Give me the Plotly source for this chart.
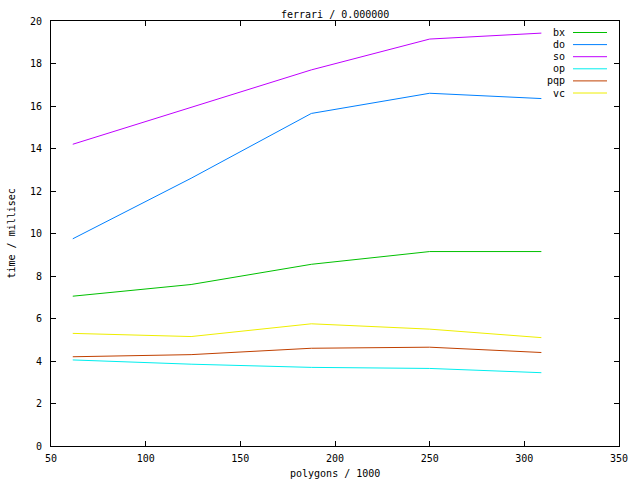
import plotly.graph_objects as go

polygons = [61.5, 124, 187.5, 250, 309]
series_names = ["bx", "do", "so", "op", "pqp", "vc"]
bx = [7.05, 7.6, 8.55, 9.15, 9.15]
do = [9.75, 12.6, 15.65, 16.6, 16.35]
so = [14.2, 15.95, 17.7, 19.15, 19.43]
op = [4.05, 3.85, 3.7, 3.65, 3.45]
pqp = [4.2, 4.3, 4.6, 4.65, 4.4]
vc = [5.3, 5.15, 5.75, 5.5, 5.1]
colors = ["#00c000", "#0080ff", "#c000ff", "#00eeee", "#c04000", "#eeee00"]
x_ticks = [50, 100, 150, 200, 250, 300, 350]
y_ticks = [0, 2, 4, 6, 8, 10, 12, 14, 16, 18, 20]
title = "ferrari / 0.000000"
x_title = "polygons / 1000"
y_title = "time / millisec"

values = [bx, do, so, op, pqp, vc]
FONT = dict(family="DejaVu Sans Mono", size=10, color="black")

fig = go.Figure()
for name, ys, c in zip(series_names, values, colors):
    fig.add_trace(go.Scatter(x=polygons, y=ys, mode="lines", name=name,
                             line=dict(color=c, width=1), showlegend=False))

W, H = 640, 480
# target plot area in window pixels: x 51..619, y 21..446
L, R, T, B = 51, 619, 21, 446
ml, mr, mt, mb = L, W - R, T, H - B
pw, ph = R - L, B - T

def px(xp):
    return (xp - L) / pw

def py(yp):
    return (B - yp) / ph

annotations = []
shapes = []
row_y = 32.5
for i, (name, c) in enumerate(zip(series_names, colors)):
    yy = py(row_y + i * 12.1)
    annotations.append(dict(x=px(567), y=yy, xref="paper", yref="paper", text=name,
                            showarrow=False, xanchor="right", yanchor="middle", font=FONT))
    shapes.append(dict(type="line", xref="paper", yref="paper", x0=px(573), x1=px(607),
                       y0=yy, y1=yy, line=dict(color=c, width=1)))

annotations.append(dict(x=0.5, y=py(15), xref="paper", yref="paper", text=title,
                        showarrow=False, yanchor="middle", font=FONT))
annotations.append(dict(x=0.5, y=py(473), xref="paper", yref="paper", text=x_title,
                        showarrow=False, yanchor="middle", font=FONT))
annotations.append(dict(x=px(11), y=0.5, xref="paper", yref="paper", text=y_title,
                        showarrow=False, xanchor="center", yanchor="middle",
                        textangle=-90, font=FONT))

axis_common = dict(showgrid=False, zeroline=False, showline=True, linecolor="black",
                   linewidth=1, mirror="allticks", ticks="inside", ticklen=5,
                   tickcolor="black", tickwidth=1, tickfont=FONT)

fig.update_layout(
    width=W, height=H,
    margin=dict(l=ml, r=mr, t=mt, b=mb, pad=0, autoexpand=False),
    paper_bgcolor="white", plot_bgcolor="white",
    xaxis=dict(range=[50, 350], tickvals=x_ticks, ticklabelstandoff=3, **axis_common),
    yaxis=dict(range=[0, 20], tickvals=y_ticks, ticklabelstandoff=6, **axis_common),
    annotations=annotations, shapes=shapes, showlegend=False,
)

fig.write_html("out.html", config={"displayModeBar": False},
               post_script="document.body.style.margin='0';")
